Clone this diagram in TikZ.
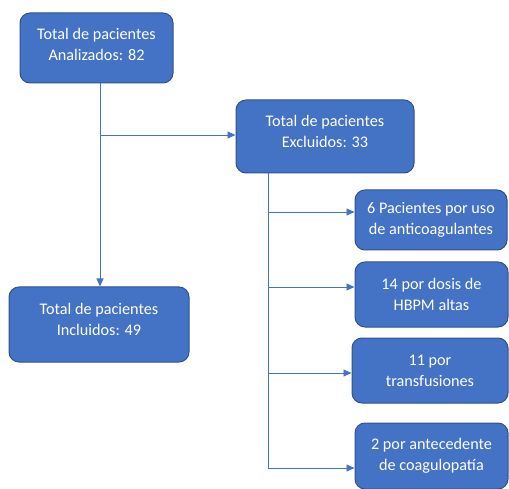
\documentclass[tikz,border=0pt]{standalone}
\usepackage{fontspec}
\setmainfont{Carlito}
\usetikzlibrary{arrows.meta}
\definecolor{boxfill}{HTML}{4472C4}
\definecolor{boxline}{HTML}{2F528F}
\definecolor{conncol}{HTML}{4472C4}
\tikzset{
  box/.style={draw=boxline, line width=1pt, fill=boxfill, rounded corners=10pt,
    text=white, align=center, font=\fontsize{16.2}{21}\selectfont, inner sep=0pt},
  boxtext/.style={text=white, align=center, font=\fontsize{16.2}{21}\selectfont, inner sep=0pt},
  conn/.style={draw=conncol, line width=0.9pt, -{Triangle[length=8pt,width=7pt]}},
  trunk/.style={draw=conncol, line width=0.9pt}
}
\begin{document}
\begin{tikzpicture}[x=1pt,y=-1pt]
\useasboundingbox (0,0) rectangle (509,489);
\node[box, minimum width=153pt, minimum height=70pt] (A) at (96.5,48) {};
\node[boxtext] (Atxt) at (96.5,44) {Total de pacientes\\Analizados: 82};
\node[box, minimum width=178pt, minimum height=73pt] (B) at (325,136.5) {};
\node[boxtext] (Btxt) at (325,131) {Total de pacientes\\Excluidos: 33};
\node[box, minimum width=180pt, minimum height=75pt] (C) at (99,324.5) {};
\node[boxtext] (Ctxt) at (99,319.5) {Total de pacientes\\Incluidos: 49};
\node[box, minimum width=152pt, minimum height=60pt] (D1) at (431,220) {6 Pacientes por uso\\de anticoagulantes};
\node[box, minimum width=153pt, minimum height=65pt] (D2) at (431.5,294.5) {14 por dosis de\\HBPM altas};
\node[box, minimum width=156pt, minimum height=65pt] (D3) at (430,370.5) {11 por\\transfusiones};
\node[box, minimum width=153pt, minimum height=66pt] (D4) at (431.5,456) {2 por antecedente\\de coagulopatía};
\coordinate (t1) at (100,135);
\draw[conn] (A.south -| t1) -- (C.north -| t1);
\draw[conn] (t1) -- (B.west |- t1);
\coordinate (b1) at (268,212);
\coordinate (b2) at (268,287);
\coordinate (b3) at (268,373);
\coordinate (b4) at (268,468);
\draw[trunk] (B.south -| b4) -- (b4);
\draw[conn] (b1) -- (D1.west |- b1);
\draw[conn] (b2) -- (D2.west |- b2);
\draw[conn] (b3) -- (D3.west |- b3);
\draw[conn] (b4) -- (D4.west |- b4);
\end{tikzpicture}
\end{document}
